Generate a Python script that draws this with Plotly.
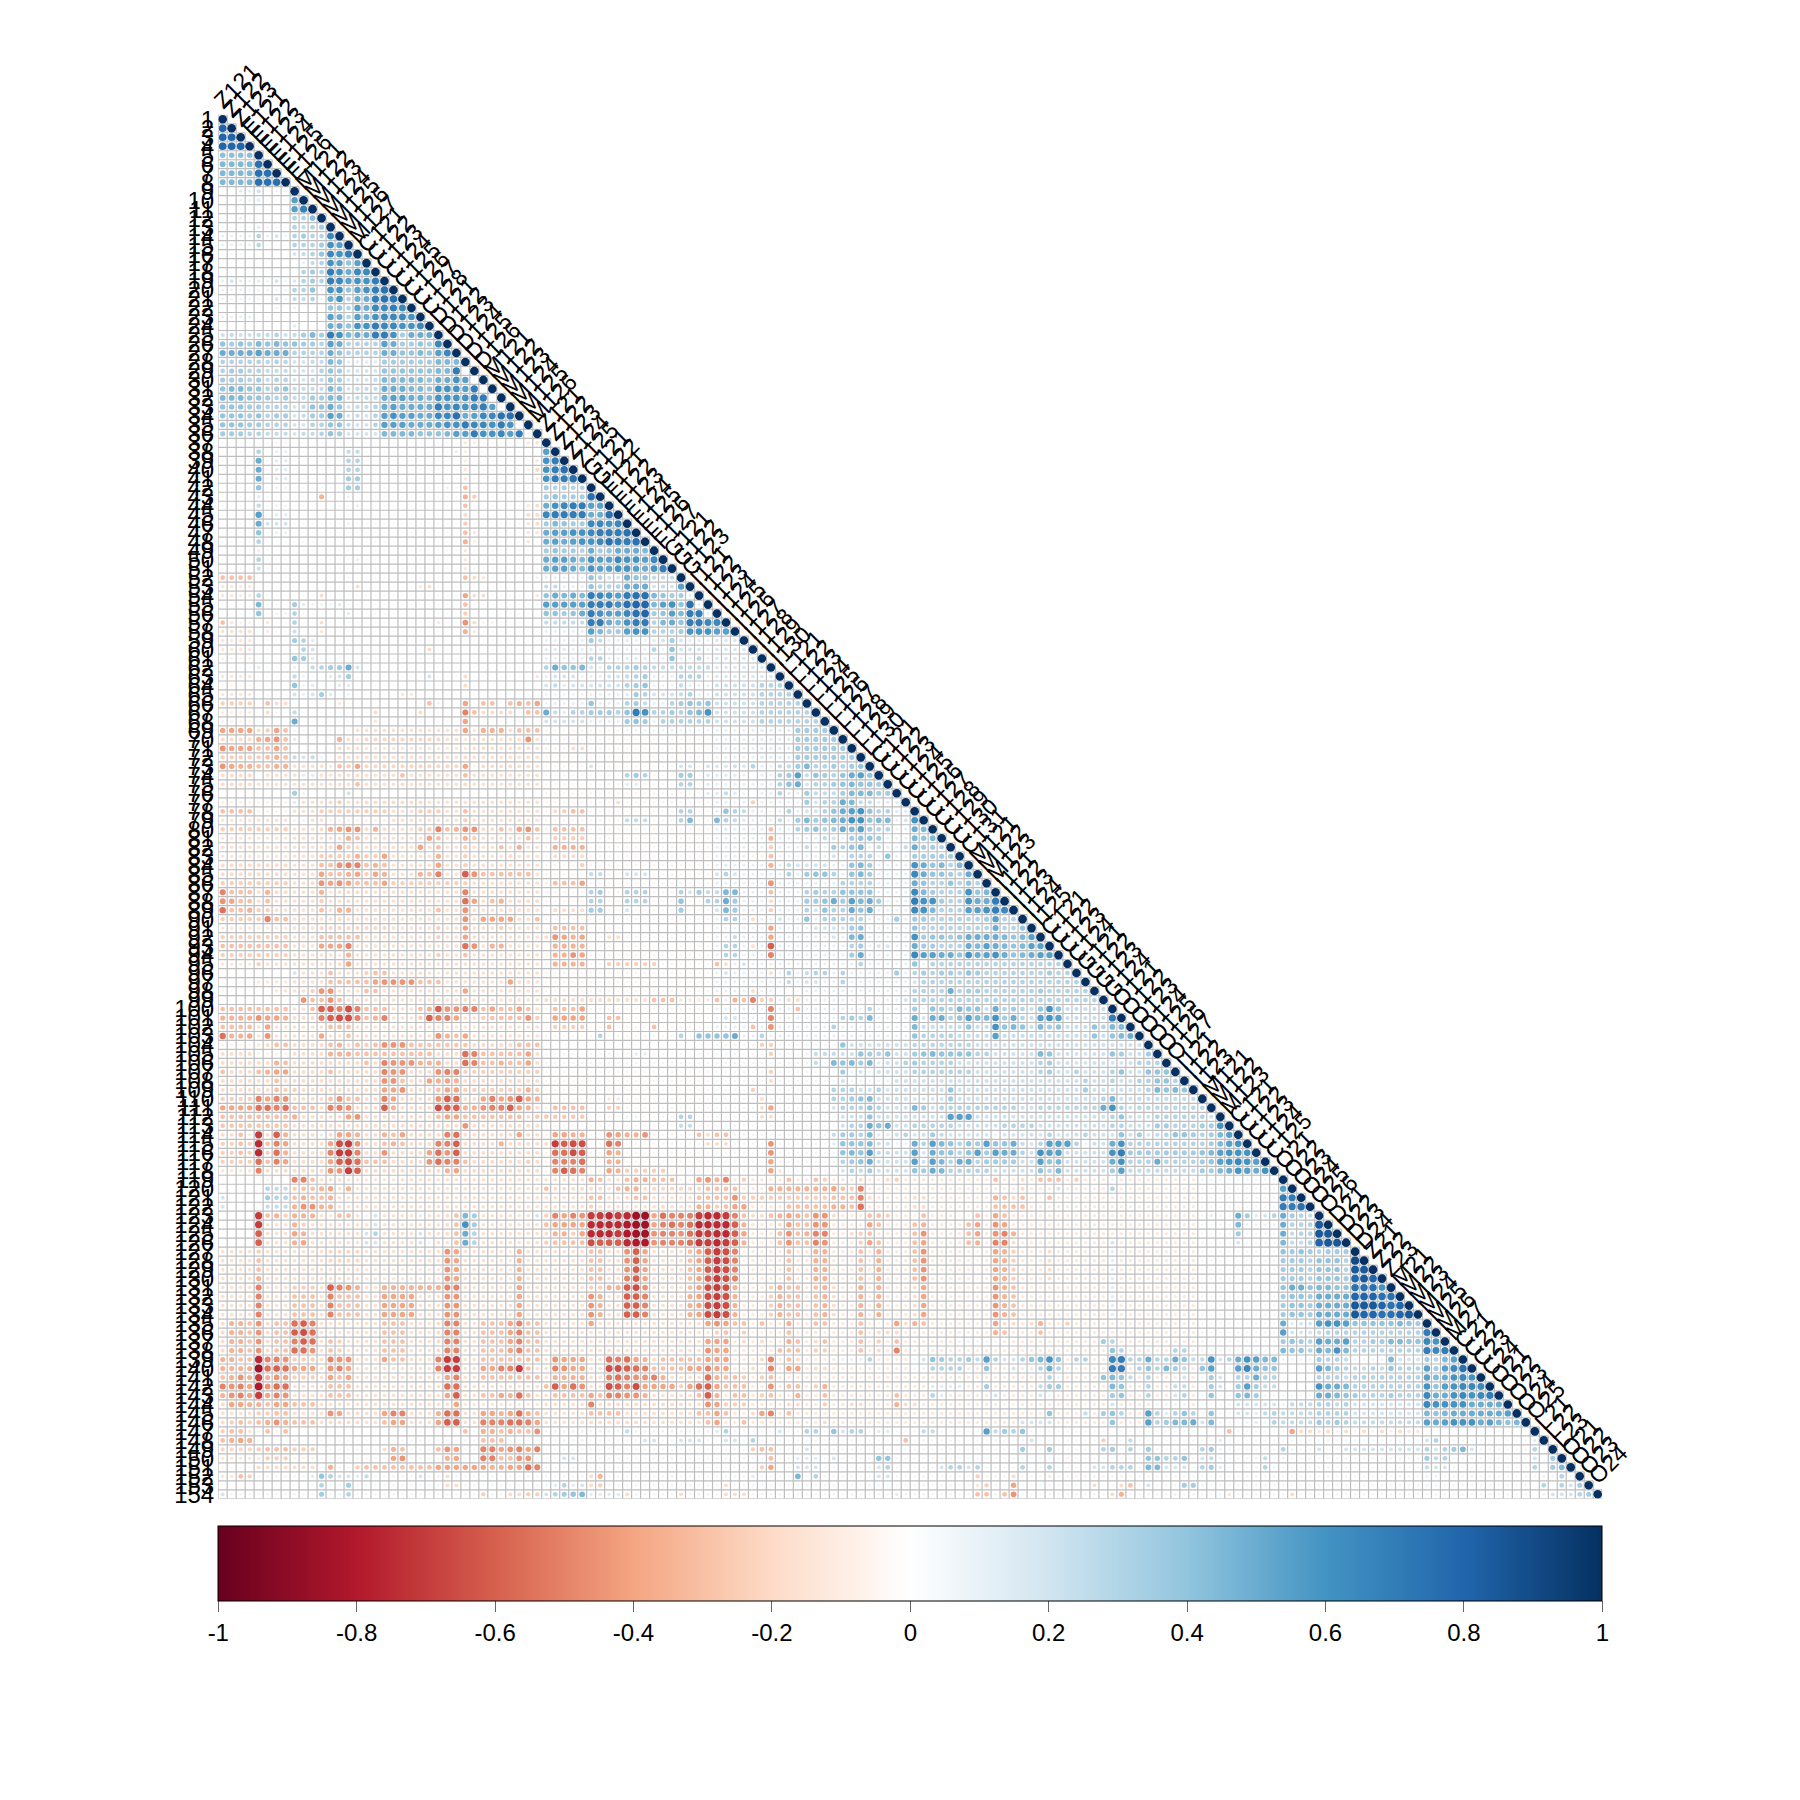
import plotly.graph_objects as go

N = 154
PAGE = 1784
row_labels = [str(i) for i in range(1, N + 1)]
# first letters of the (overlapping) diagonal labels, per stretch of variables
top_letters = [("Z",3),("E",6),("M",7),("C",8),("D",6),("M",6),("Z",5),("G",2),("F",7),("G",3),("I",10),("L",10),
               ("C",11),("M",3),("I",5),("C",4),("G",4),("O",7),("I",3),("M",3),("C",5),("O",6),("D",4),("Z",3),
               ("M",7),("C",4),("O",5),("L",3),("O",4),("K",8),("Z",2),("K",2)]
tick_vals = [-1, -0.8, -0.6, -0.4, -0.2, 0, 0.2, 0.4, 0.6, 0.8, 1]
tick_text = ["-1", "-0.8", "-0.6", "-0.4", "-0.2", "0", "0.2", "0.4", "0.6", "0.8", "1"]
palette = ["#67001F","#B2182B","#D6604D","#F4A582","#FDDBC7","#FFFFFF","#D1E5F0","#92C5DE","#4393C3","#2166AC","#053061"]

# background tone of pale dots: rows, cols, value (hundredths)
tones = [
 ("1-51","1-154",6),("52-68","1-36",6),("52-68","37-154",12),("69-103","1-36",-18),("69-103","37-55",-8),
 ("69-103","56-154",12),("79-99","78-100",30),("104-118","1-36",-20),("104-118","37-55",-8),("104-118","56-69",8),
 ("104-118","70-118",22),("100-103","78-100",24),("119-146","1-54",-18),("119-146","55-109",-14),
 ("119-146","110-118",8),("127-146","119-134",25),("123-126","119-122",25),("147-154","1-154",8),
]

left_1_51 = {
 "2":"1:80", "3":"1-2:80", "4":"1-3:80", "5":"1-4:42", "6-8":"1-4:45 5-7:75",
 "9":"1:5,5,15,12,22,5,10,10", "10":"1:3,3,10,10,15,5,5,5,55", "11":"1:3,3,5,5,3,3,3,3,55,68", "12":"1:5,5,12,5,3,3,3,3,30,30,42",
 "13":"1:7,7,7,7,15,8,8,8,30,25,30,35", "14":"1:12,12,12,12,30,12,20,10,30,35,30,30,65", "15":"1:12,12,12,12,28,5,5,5,30,30,30,35,60,55",
 "16":"1:8,8,8,3,3,3,3,3,20,25,30,40,65,60,70", "17":"1:5,5,5,5,3,3,3,3,3,12,25,30,60,55,40,55", "18":"1:3,3,3,3,3,3,3,3,3,30,35,30,70,60,50,65,65",
 "19":"1:12,20,15,10,15,10,20,10,18,30,35,30,70,65,55,60,60,70", "20":"1:10,12,12,10,10,10,10,10,30,30,40,10,60,60,40,55,60,70,75",
 "21":"1:10,10,10,10,10,5,20,10,25,25,30,10,50,60,30,50,50,70,75,75", "22":"1:3,3,3,3,3,3,10,3,12,3,3,3,40,40,30,55,50,65,65,70,65",
 "23":"1:12,12,12,12,5,5,5,5,3,3,3,3,55,50,30,55,50,60,65,65,65,60", "24":"1:4,4,4,4,4,4,4,4,15,3,3,3,50,50,40,60,60,70,65,65,60,60,65",
 "25":"1:22,25,22,22,25,25,30,22,25,35,45,35,70,60,45,50,50,70,70,60,35,50,50,50",
 "26":"1:40,35,40,35,45,40,45,40,40,35,35,30,55,50,30,30,30,30,55,50,35,35,40,35,65",
 "27":"1:50,50,50,50,55,50,50,50,30,30,30,30,50,40,30,30,30,30,50,50,40,40,45,40,55,65",
 "28":"1:30,30,30,30,30,28,30,28,20,20,25,25,45,40,15,15,15,15,35,35,35,35,35,35,45,45,45",
 "29":"1:30,35,35,30,30,25,25,25,20,20,20,30,40,35,20,20,20,20,40,40,40,40,40,40,45,45,70",
 "30":"1:35,35,35,30,35,25,30,30,20,20,25,25,40,35,20,20,20,25,45,45,45,45,45,40,50,50,60,55",
 "31":"1:40,45,45,40,40,30,35,40,25,25,25,25,45,40,20,25,25,25,50,50,50,45,45,40,60,60,60,55,70",
 "32":"1:45,45,45,40,40,35,30,35,25,25,35,35,45,45,20,25,25,25,50,55,55,50,50,45,60,60,60,60,70,70",
 "33":"1:40,40,40,35,35,30,30,30,20,25,40,40,50,40,20,25,25,30,50,55,50,50,50,50,70,60,65,60,65,70,55",
 "34":"1:40,40,40,35,40,30,35,35,20,25,35,35,55,50,20,25,20,30,55,60,55,55,50,50,65,65,75,50,55,65,65,75,75",
 "35":"1:40,40,40,35,35,30,30,30,20,20,30,30,40,40,25,20,20,30,55,55,55,50,50,50,55,60,60,70,65,65,60,70,60",
 "36":"1:35,35,35,30,30,25,25,25,20,25,25,30,40,35,20,20,20,20,45,45,45,45,40,40,40,45,55,55,70,60,60,65,55,70",
 "37":"7-8:8 28:-15 29:-12 35:-15 36:-18", "38":"5:30 7-8:12 15-16:25 27:12 28:-12 37:55",
 "39":"5:50 7-8:15 15-16:30 28:-12 36:-15 37:60,70", "40":"5:50 7-8:15 15-16:30 28:-15 35:-12 36:-22 37:60,70,75",
 "41":"5:50 7-8:15 15-16:35 28:-15 36:-15 37:60,70,70,75", "42":"5:40 7-8:10 15-16:35 26:10 28:-30 37:35,30,35,30,30",
 "43":"5:15 12:-35 15:10 28:-35 29:-25 37:35,40,35,35,35,75", "44":"5:25 7-8:10 16:12 28:-30 35:-15 36:-20 37:50,60,65,70,70,55,55",
 "45":"5:55 7-8:15 28:-20 35:-20 36:-20 37:65,70,70,70,70,50,50,75", "46":"5:50 6-8:20 15:10 28:-25 35:-15 36:-20 37:35,45,40,35,35,65,65,60,65",
 "47":"5:40 7-8:12 28:-30 29:-15 35:-15 36:-15 37:50,55,55,60,60,65,70,70,70,75",
 "48":"5:30 28:-35 29:-12 35:-15 37:50,55,50,55,60,60,65,75,70,70,75", "49":"5:12 28:-15 37:35,40,35,35,30,50,35,40,50,50,50,45",
 "50":"5:30 16:12 28:-15 37:50,55,55,50,45,60,55,55,65,60,60,55,65", "51":"5:22 28:-15 37:50,55,55,50,45,60,55,55,60,60,55,50,60,70",
}

left_52_103 = {
 "52":"1-4:-30 6:3 9:8 28:-30 29:-20 30:-15 36:-10 42:40,30,20,20,50,40,40,25,25,25",
 "53":"1-4:-15 16:-20 23:-15 24:-20 37:25,25 42:40,30,30,30,50,50,50,20,25,20,55",
 "54":"1-4:-15 5:30 12:-20 28:-40 29:-20 30:-20 36:-15 37:40,50,45,50,45,70,65,60,55,70,75,75,45,40,35,35",
 "55":"1-4:5 5:45 9:35,15,10,10,10,15 28:-30 37-41:55 42:70,70,70,60,75,80,80,45,55,60,40,75",
 "56":"5:40 7-8:10 9:30 15:15 28:-25 37:40,40,35,40,50,70,60,55,55,65,75,80,35,40,55,45,70,70",
 "57":"1:-30,-15,-10,-10 6:-15 9:30 12:-20 25:-15 28:-45,-20 30-31:-10 37-41:25 42:70,70,50,45,60,70,70,30,45,50,40,70,70",
 "58":"1-4:-18 6:-12 9:22 12:-15 28:-35,-15 42:55,45,35,35,55,60,60,30,30,30,35,60,60,60",
 "59":"1-4:-15 9:35,30,15 42:35,25 46:15 49:15,20,35,20 54:15",
 "60":"1-4:-15 10:30,20 24:-20 37-39:15 42:15 49:30,10,40,20,20 54:20",
 "61":"1-4:-10 9:40,35,15 17-25:7 42-43:30 46-48:15 51:40 54:30",
 "62":"5:15 9:12 11:25,30,35,35,50,20 37:30,50,40,40,45,20 44-45:30 46:30,35,30 49-55:25",
 "63":"1-4:-15 9:25,10 13:15,20,35 24:20 28:-20 36:-15 37:12,20,20,20,10 44-45:20 46:25,30,35 52-54:30",
 "64":"1-4:-8 9:40,10,15 14-15:15 28:-20 37:20,25,15,20,20 42-45:20 46:30,35,40 49-51:10 52:25",
 "65":"1-4:-15 9:20,12,20,35,15 15:10 21-22:-15 37-41:10 46:15,35,30 49-50:20 51:20,25,30",
 "66":"1-4:-25 6:-30,-20,-20 14:-15 24:-30,-10 28:-40 30-31:-30 33:-30,-35,-30,-40 37:10 42:40 46:30,35,25 51:30,35,40,35,40",
 "67":"1-4:-12 6:-20 9:25 18:-20 23:-20 28:-50,-30 30-33:-20 35:-30,-30 37:50,25,15,30,30,35,35,35,30,40,70,60,30,30,35,30,40,45,60",
 "68":"1-4:-10 9:50 18:-15 28:-40 37-41:20 46:35,40,35 50-55:30",
 "69":"1-4:-40 5:-20,-25,-40,-30 9-15:8 28:-40,-15 30:-35,-35,-35 34-36:-30 46-55:10",
 "70":"1-4:-20 5:-35,-40,-45,-30 9:15 10-13:-3 14:-35 16:-15 17-25:-22 28:-15 35:-45 37:10",
 "71":"1:-45,-40,-40,-40,-30,-30,-40,-30 9-13:-3 14:-20 17-28:-15 37:-10,-10,-10,-20,-20",
 "72":"1-4:-25 5:-25,-30,-35,-30 9:25,20,25,10 13:-5 28:-20",
 "73":"1:-45,-40,-35,-35,-30,-30,-35,-35 13:-15,-30,-25,-40 17-28:-22 28:-40,-10 30-35:-20 42:20 52-53:20",
 "74":"1-4:-20 5:-5 10:15,15 16:-20 21:-30 28:-30 46:30,35,30 52:35,35",
 "75":"1-4:-20 16:-30 21:-20 28:-20 46-47:15 52-53:30",
 "76":"1-8:-4 9:35,10 11-14:2 15:20 16-36:-3",
 "77":"1-8:-10 9:15 13:-20,-25 17-23:-20 34:-15 45:-20",
 "78":"1-4:-30 5-8:-10 12-19:-25 23-25:-25 28:-30 38:-20,-25,-30,-30 52-53:30",
 "79":"1-4:-15 9-10:10 13-19:-10 28:-25 46-48:25 52:30,45",
 "80":"1-8:-25 12:-20,-35,-40,-45,-45,-20,-35,-20 23:-25,-25,-50,-30,-35,-45,-45,-20,-20,-30,-20,-40,-45,-30 38-41:-30",
 "81":"1-8:-15 15:-35,-30 24:-40,-30 28:-35,-25 35:-30 38-41:-25",
 "82":"1-8:-18 13:-20,-40,-25,-20 23:-40 25:-30 28:-25 32:-30 34:-35 38-41:-35",
 "83":"1-8:-15 12-19:-25 16:-35 19:-40 25:-35 28:-25 33:-20 38-41:-20",
 "84":"1-8:-20 12-19:-30 14:-45,-50,-50 18:-35 25:-40 28:-25 41:-25",
 "85":"1-8:-20 12:-40,-30,-30,-35,-40,-25,-40,-35 23:-35,-30,-50 28:-60,-45 30-35:-30 42-43:25 46-48:20",
 "86":"1-8:-25 11:-20,-45,-40,-45,-40,-30,-30,-30,-40 20-28:-25 37:-10,-30,-30,-30,-40",
 "87":"1:-50,-30,-30,-30 6:-35,-20,-20 12:-35,-15,-20,-20,-20 28:-50 42:30,35 46-48:30 52:30,20,35,30",
 "88":"1:-45,-40,-30,-30 6:-30 12:-25 15:-20 28:-55,-40 31:-30,-35 34-36:-20 42-43:30 46-48:30 52:40",
 "89":"1:-55,-30,-30,-35,-25,-25 12:-30 14:-35,-35 25:-30 28:-45 38-41:-20 42:35,35 46:20 52:35",
 "90":"1-5:-25 6:-50,-30,-30 14:-20 28:-45 30-33:-40 36:-30",
 "91":"1-8:-15 12-19:-22 25:-25 28:-40 32:-25 38-41:-30 46-55:3",
 "92":"1-8:-25 12-16:-30 25:-25 28:-40,-20 37:-20,-45,-40,-35,-40 44-45:-20",
 "93":"1-8:-30 12:-40,-40,-40,-50 28:-55,-45 31-32:-35 38-41:-35",
 "94":"1-8:-25 14:-15,-35 25:-25 28:-30 38:-35,-35,-45,-40",
 "95":"1-4:-15 5:-25 14:-20,-40 38-41:-35 44-49:-25",
 "96":"1-8:-3 9:20 13:-30 17:-25,-30,-30 25:-15",
 "97":"1-4:-5 5-8:-15 13-17:-30 18:-40,-45,-45,-45,-45,-30,-30,-30 33:-40 34-35:-20",
 "98":"1-6:-5 7:-15 11:-25,-45,-45 17:-30,-30 28:-40 43:10",
 "99":"1-9:-5 10:-45,-30,-30,-45,-30 28:-20 37-48:-20 49-51:-30 52-55:-15",
 "100":"1-8:-30 11:-30,-60,-60,-50,-65,-50,-30,-30,-30 23:-30,-35,-60,-45,-45,-50,-50,-30,-40,-30,-30,-40,-30 38:-30,-30,-30,-40",
 "101":"1-4:-35 5:-45,-40,-40,-35,-20,-20,-20,-50,-60,-65,-65,-50,-30,-35,-50 23:-25,-60,-50,-50,-40 30:-25,-30,-30,-30,-30,-45,-25 38-41:-40 44-45:-30",
 "102":"1-4:-30 6:-40 13-15:-30 25-29:-15 38-41:-25 44:-30 49:-30",
 "103":"1:-55,-35,-35,-40 6:-45 12:-40 15:-30 25:-45,-35,-30,-40 43:30 52:30 54:40",
}

left_104_154 = {
 "104":"1-4:-10 5:-15 7-8:-30 13:-30,-35,-20,-30,-25,-30,-45,-45,-45,-30 23-28:-28 34-36:-30 37-55:-4",
 "105":"5-8:-10 12:-20,-35,-35,-35 16-24:-30 28:-55,-50 30:-30,-30,-30,-30,-30,-40 47-48:15",
 "106":"5-8:-20 7:-35,-30 13-15:-20 17:-30 19:-50,-45,-45,-45 23-25:-35 28:-55,-50 30:-30,-30,-35,-30,-30,-40",
 "107":"1:-30,-20,-20,-20,-30,-35,-40,-40 11:-20,-20,-30 19:-50,-45,-45 25:-45,-50,-50 28-36:-25",
 "108":"6:-20,-30,-20 19:-45,-45,-30 24:-40,-35,-40,-35 28-36:-20",
 "109":"7:-30,-25,-25 19:-40,-40,-45 25:-30,-40,-40 28-36:-25 35:-35",
 "110":"1-4:-25 5:-50,-40,-50,-45,-20,-20,-20 13:-30,-45,-30,-30 19:-50,-40 25:-45,-60,-55 30:-40,-50,-40,-45,-60,-40,-35 44-45:-15",
 "111":"1-4:-40 5:-55,-55,-50,-55,-30,-30,-30 13:-50,-50,-45 19:-60,-35 25:-65,-60,-60,-35,-35,-45,-50,-50,-60,-40,-35 38-41:-30 44-45:-25",
 "112":"1-8:-30 9:-35 15:-40,-45 25:-30,-40,-40 28-34:-30 36-41:-27 46-47:10 52-53:30",
 "113":"1-8:-28 17-25:-20 28:-45 30-33:-20 52-53:25",
 "114":"1:-20,-20,-30,-15,-70,-20,-60,-35 12:15,-20,-40,-40,-35 19:-35,-30,-40 26:-50,-55 31:-20 34:-40 38:-40,-40,-35,-35 44:-45,-40,-35,-35,-45 54-55:-30",
 "115":"1:-25,-25,-30,-25,-75,-30,-50,-40 13:-40,-65,-70,-45 19:-30,-35,-30 25:-50,-50,-60 32:-35 37:-20,-70,-60,-65,-65 44:-55,-50",
 "116":"1:-25,-25,-30,-25,-75,-25,-55,-35 12:-20,-50,-70,-70,-50 19:-45 24:-40,-55,-45,-60 38:-55,-55,-65,-60 44:-40,-35",
 "117":"1-4:-25 5:-55,-30,-50,-40 13:-40,-60,-65,-55,-30,-30,-30 24:-45,-55,-50,-50,-30 35:-25 38:-50,-50,-50,-55 44-45:-35",
 "118":"1-4:-15 5:-50,-20,-20,-20 13:-45,-45,-70,-60 26:-35,-40 38:-50,-60,-55,-50 44:-40,-35,-25,-25,-25,-25,-25",
 "119":"1-8:-3 6:10 9:-50,-50,-30 15-20:-15 42:-35,-30 46:-30,-35,-35,-30,-30,-30,-10,-10,-40,-45",
 "120":"1-5:-3 6:30,25,25,-25,-30,-30,-35,-40 15:-35 37:-30 38-41:-20 42-43:-20 45:-30,-35,-35,-20 49-55:-22",
 "121":"1:20 2-5:3 6:35,30,30,-30,-35,-30,-30,-35 42-43:-30 46:-20,-30,-30 54-55:-30",
 "122":"1:20 2-5:3 6:25,25,25,-35,-45,-45,-35,-35 42:-25 46:-15 50:-20 54-55:-35",
 "123":"1-4:-3 5:-70,-30,-35,-25,-35,-35,-35 13:-15,-30,-30 17:10,20 23:15 26:-20,-30,45,35 36:20 37:-25,-50,-40,-50,-45,-70,-70,-75,-70,-75,-85,-85,-40,-55,-50,-50,-50,-70,-75",
 "124":"1-4:-3 5:-70 9:-35,-25 18:20 26:-20,-30,60,35 37:-30,-40,-40,-40,-40,-75,-75,-75,-75,-80,-85,-85,-40,-50,-55,-50,-55,-75,-80",
 "125":"1-4:-3 5:-60 9:-40,-35 17:20,30 23:20 26:-20,-30,50,30 37:-20,-35,-35,-25,-40,-75,-75,-75,-70,-80,-85,-85,-45,-50,-50,-45,-55,-70,-80",
 "126":"1-4:-3 5:-60 9:-35,-40 17-18:20 23:20,10 27:-30,50,30 37:-25,-30,-30,-30,-30,-65,-60,-60,-60,-75,-80,-80,-45,-50,-50,-50,-55,-70,-70",
 "127":"5:-25 13-16:-22 17-25:-18 26:-45,-40 33:-15,-35 42-43:-30 46:-45,-60,-40 53:-30,-40,-45",
 "128":"5:-30 13-16:-22 17-25:-18 26:-45,-40 33:-15,-35 42-43:-30 46:-45,-60,-40 53:-30,-40,-45",
 "129":"5:-30 13-16:-18 17-25:-15 26:-45,-40 33:-15,-35 42-43:-30 46:-45,-60,-40 53:-30,-40,-45",
 "130":"5:-35 13-16:-18 17-25:-15 26:-45,-40 33:-15,-35 42-43:-30 46:-50,-60,-40 53:-30,-40,-50",
 "131":"5:-50 9-11:-25 13:-60,-50,-45,-35 19-25:-35 26:-50,-50 34:-40 42-43:-25 44-45:-35 46:-60,-65,-45 53:-30,-40,-55",
 "132-134":"5:-50 9-11:-30 13:-50,-30,-30,-30 19-22:-40 26:-45,-45 34:-40 42:-45,-35 46:-60,-60,-50 53:-35,-40,-60",
 "135":"1:-20,-35,-35,-30,-45,-20,-30,-30,-55,-60,-50 19-21:-30 25:-20,-50,-50 30:-30,-30,-30,-40,-50,-30,-30 42:-40",
 "136":"1:-20,-35,-35,-30,-45,-20,-30,-30,-60,-65,-55 19-21:-30 25:-20,-50,-50 30:-30,-30,-30,-40,-50,-30,-30",
 "137":"1:-20,-35,-35,-30,-45,-20,-30,-30,-50,-60,-55 13:-30,-25 19-21:-30 25:-20,-50,-50 30:-30,-30,-30,-40,-50,-30,-30",
 "138":"1:-20,-35,-35,-30,-45,-20,-30,-30,-55,-55,-45 13:-30,-25 19-21:-30 25:-20,-50,-50 30:-30,-30,-30,-40,-50,-30,-30",
 "139":"1:-35,-35,-30,-30,-75,-50,-50,-45,-25,-25,-25 13:-50,-45,-45 19:-40,-30,-30 25:-50,-70,-70 30-36:-30 38:-45,-40,-40,-40 44:-55,-50,-55,-40,-35,-20,-30,-30,-30,-30,-30,-30,-30",
 "140":"1-4:-35 5:-85,-55,-60,-55,-40,-40,-40 13:-45,-50,-40 25:-50,-70,-70 30:-40,-40,-50,-50,-70,-30 38:-50,-45,-40,-40 44:-65,-65,-60,-55,-50,-30,-30,-30,-30,-40,-40,-50",
 "141":"1:-30,-35,-45,-35,-70,-35,-45,-40,-25,-25,-25 13:-40,-30,-40 26:-40,-50 30-36:-30 38-41:-35 44:-50,-55,-50,-45,-45,-50,-35",
 "142":"1:-50,-45,-50,-40,-80,-45,-55,-55 13-15:-30 26:-55,-55 37:-30,-60,-40,-55,-45 44:-65,-60,-50,-65,-40,-40,-40,-40,-25,-40,-55,-40",
 "143":"1:-35,-45,-50,-40,-70,-40,-50,-45 13-15:-30 26:-40,-60 30:-30,-30,-40,-35,-55,-30 38-41:-30 42:-40,-30,-50,-50,-45,-45,-35 54:-30,-45",
 "144":"1:-20,-40,-40,-35,-35,-30,-40,-40,-30,-30,-30 27:-40 28-36:-15 42:-50 44-52:-20",
 "145":"5:-25,-25,-30,-30 13:-45,-40,-20,-20 19:-40,-50,-50 25:-35,-55,-55 30:-40,-40,-35,-40,-55,-35,-30 42-45:-30 54:-30,-35",
 "146":"1:-20,-25,-30,-25,-30,-35,-45,-35,-30,-30,-30 13-16:-20 19:-30,-40,-40 25:-40,-60,-60 30:-50,-50,-50,-55,-55,-50,-40 42-48:-20",
 "147":"1:-25,-30,-30,-15 6:-30,-10,-30 9-27:-5 28:-30 30:-35,-35,-30,-35,-30,-30,-45 37-55:10 46:25",
 "148":"1:-30,-35,-40,-35 6-8:-5 9:-10 30-32:-30 38-41:10 48:20,20 52-54:20",
 "149":"1-4:-22 5:-25,-30,-30,-30,-25,-25,-25 19:-20,-35,-30 25:-30,-45,-40 30:-50,-50,-40,-45,-50,-40,-50",
 "150":"1-5:-15 6-8:-25 9-11:-10 20:-40,-45 26:-35,-40 30:-50,-50,-30,-30,-45,-45 39-40:20",
 "151":"1-4:-8 5-11:-20 13:-35 16:-25,-30,-30,-30,-30,-30,-30 23:-30,-30,-40,-40,-40,-40 29:-40,-40,-35,-35,-40,-40,-55,-50 40:10",
 "152":"1:-15,-15,-30,-25 11:15,40,30,20,20,15,25 23:20 26:-20 42:-20,-35",
 "153":"1-10:-5 12:30 15:35 26:-20,-20 38:15,30,15,20 42:-20,-25",
 "154":"1:20 12:35 15:30 30:-25 33:-20,-20,-25,-25 37:20,30,35,40,45 42-45:15 46:-20 52:-20 54-55:10",
}

mid_52_103 = {
 "57":"55-56:65", "58":"56-57:55", "59-63":"56-62:18", "64-68":"56-60:22 61-67:30", "69-72":"56-60:12 61-64:15 65-71:35",
 "73":"55:20,18,18,22,18,30 63:25,25,35,45,30,30,35,30,35,40,45,45",
 "74":"55:18,15,15,15,12,5 63:30,35,55,25,40,35,30,40,50,55,40",
 "75":"55:15 63:30,40,50,20,30,30,35,40,45,40,40,35",
 "76":"55:15,15,25,15,10,5 63:30,15,12,35,25,25,25,35,45,45,45,35,35",
 "77":"58:10 60:-25 65:10,35,20,30,30,50,45,25,25,15,15,15",
 "78":"57:40,30,25 62:-10 64:30 66:20,20,30,40,50,55,60,40,30,30,15,15",
 "79":"56:45,30,25,15 63:25 65:35,45,35,40,45,50,60,60,40,45,45 77:20,60",
 "80":"57:15 62:-30 65:30,35,40,30,35,50,45,55,35,30,30 78:50,45",
 "81":"62:-35 68:25,20 71:35,40,40,35 78:45,40,45",
 "82":"60:-10 62:-25 66:25 69:35,30,40,45 74:25 77:25,50,35,35,30",
 "83":"60:-10,-10,-30,10 65:10 69:20 71-73:30 75:40 78-82:35",
 "84":"57:15 62:-35 64:25,20,20,20,20 71:40,45,35 78:60,50,40,45,30,45",
 "85":"56:20,30,20 64:30 66:35,40,40,30 71:40,45,35 78:65,50,40,40,35,30,50",
 "86":"62:-45 70-73:30 78:50,40,30 82:40 84:40,30",
 "87":"55:25,25,45,45 62:-30 66:30,35,30,30,40,40,40,40 78:65,45,35,30,30,30,60,40,45",
 "88":"55:30,30,50,35 62:-20 66:35,35,40,50,35,55,45,50,35 78:70,60,60,35,30,30,60,50,50,70",
 "89":"56:20,45,35 62:-25 66:30,20,40,30,30,50,40,50 78:65,60,45,30,30,30,55,55,60,70,65",
 "90":"57:30,30 60:-20 63:20 66:40 68:30,30,30,30,30 76:35 78:35,35 82-83:30 84:30,30,35,55,30,30",
 "91":"62:-40 67-70:20 71:35,40 78:40,30,30 84:30,30 87:50,30,30,40",
 "92":"58:25 62:-40 69:20 71:45,50 78:60,35,40,40,35,40,50,50,50,50,45,40,45,55",
 "93":"57:30,30 60:-20 62:-60 71:30,35 74:20,20 78:50,35,35 84:50,45,55,50,45,40,45,55,55",
 "94":"57:30,30 62:-50 71:35,50 76:10 78:65,55,55,50,50,40,60,50,55,60,50,40,45,50,55,55",
 "95":"56:-30,-20 59:20 62:-15 72:30 78:40,10,30",
 "96":"57:20 62:-20 64:30 66:25,30,30 70:30 76:35 78:30,35,30,35,35 84:40,35 91:30,30,35,30",
 "97":"64:25 66:20,20 70:30 78:20",
 "98":"60:-20 63-65:-5 82:50,30,35,35 87:30,30,30,30,30,35 94:30",
 "99":"56:-30 58:-35,-30,-50,-25,-25 64:-20,-20 71-74:-10 77:20 90:30",
 "100":"62:-50 65:-30 72:10,30 78:35,10,40,35,30,45,40,40 87:50,30,35,30 92:40,60,40",
 "101":"57:20,20 62:-50,-10 70:30,35,30,45 78:50,20,50,50,30,40,55,45,45,60,35,50,30 92:55,60,55 100:70",
 "102":"60:-30 62:-45 69:30 78:45 84:40 87:60,40,45,40 92:45,35,40 98:40,30,45,45",
 "103":"55:40,40,40,50 61:30 78:40,30,30,30,30 87:55 98:40 100:40,45,50",
}

mid_104_118 = {
 "104":"57-58:-10 61-62:-25 70:40 73-74:20 78-84:28",
 "105":"62:-25 67-69:25 72:40,35,30,40 78:35,40,45,40,40,40,40,30,30 92:45,40 96:20,20 100:40,35 104:35",
 "106":"67:25 69:45,40,45,35,45,15 77:30,35,30,30,30,30 92:30,35 96:20,20 100:20,20 103:30,30,30",
 "107":"62:-25 70:35,10,20,10 78-84:30 92:30,35 96:30 100:30,40 104:40,40,40",
 "108":"62:-20 71-75:10 97:30 100:30 103:30,30,40,40,30",
 "109":"60:-25 69-71:30 74:30,20 82:40 97:35 104:30,45,40,45,40",
 "110":"61:-20,-10 69:30,30,35,40,45 78-81:20 82:35 99:30,45 103-109:25",
 "111":"61:-20,-40 69:20,30,30,30,40,30 78:45,35 81-89:30 92-98:28 99:50,60,30 103-110:28",
 "112":"61-62:-20 73:40 82-84:55 100:30,40 105-110:30",
 "113":"71:30,30,50,40,50 78-82:30 88-91:30 100:30,30 105:35,35,30,30,30,35,35,60",
 "114":"55:-20,-30,-30 63:-10 69:25,35,35,30,45,15,15 77:30,20 80:35,25,20,20,20,20,20,10,20,20,20 92:20,30,20,20 97:30 100:20,40 103:35,20,25,30,40,40,35,30,35,45,55",
 "115":"55-57:-20 62:-45 69:15,40,40,40,45 76:10,10,50,30,55,45,40,30,40,35,55,40,40,50,25,20,30,55,55,55,30 97:10 100:50,60,30,30,30,30,30,30,30,30,30,35,45,55,60",
 "116":"62:-45 70:40,45,40,55,25,25 78:55,20,50,40,40,30,40,55,35,55,50,50,30 92:60,55,55 100:60,70,35,35,35,35,35,35,35,35,40,45,55,60,60,60",
 "117":"62:-40 70:30,35,40,50 78:55 80:55,45,30,50,50,30,35,35,35,35 92:55,40,45 100:50,60,30,30,30,50,30,30,30,30,35,40,55,60,65,60,55",
 "118":"62:-40,-15 70:20,30,25,35 77:20,40,35,50,45,30,30,30,30,30 92:40,30,45 100:35,55,25,25,25,25,25,25,25,25,35,35,45,50,60,55,50,60",
}

mid_119_154 = {
 "119":"55:-45,-35,-50 59:-25 61:-15 64:-30 67:-30,-25 70:-15 72:-20 75:-20,-25 78:-15,-15 87:-30 90:-20 92-94:-30 96:-25 100:10",
 "120":"55-58:-30 62-68:-35 69:-40,-30,-25,-50 90:-20 94:20 100:30",
 "121":"56:-30,-30,-45,-40 59-68:-25 69:-30,-30,-30,-50,-20,-15 78:-20,-20 87:-35,-30,-20,-30 92:-10,-30",
 "122":"56:-25,-30,-40,-40 64-68:-30 69:-35,-35,-30,-55 78-79:-20 87-90:-30",
 "123":"55:-75,-75,-70,-50,-30,-20,-20,-30,-35,-40,-35,-30,-45,-45,-20 73:-30,-30,-25 78:-10,-30 83:-10,-10,-30 87:-40,-30",
 "124":"55:-75,-75,-75,-60,-35 63:-20,-40,-30,-30,-45,-45 73:-40,-30 78:-30,-35 84:-30,-40 87:-45,-40",
 "125":"55:-70,-75,-75,-60,-40 63:-30,-45,-30,-35,-50,-50 71:-20,-25,-30 78:-30,-45 84:-30,-40 87:-45,-50,-35",
 "126":"55:-70,-75,-70,-60,-35 63:-30,-45,-30,-30,-50,-45 72:-25,-40,-30 78:-30,-40 84:-30,-35 87:-50,-50,-20 100:20",
 "127-130":"55:-60,-70,-65,-50,-10 64:-30,-15,-15,-35,-35 72:-30 74:-35 78:-30,-45 85:-10 87:-40,-35,-25 93:-20 100:15",
 "131-134":"55:-65,-70,-65,-35 62:-25,-35,-30,-30 67:-30,-35,-20 72:-35 74:-35,-15 78:-20,-40 87:-45,-35,-30 100:15",
 "135":"55:-40,-45,-40,-30,-30,-10,-30 64:-35 67:-30,-30 72:-30 74:-10 76:-40,-20,-35,-30 87:-40,-20,-20 91:-20,-35 95:-25",
 "136":"55:-15,-25,-30 59:-25,-10,-10 64:-30 67:-15 72:-30 74:-20,-20,-20 87:-35,-30 92:-30",
 "137":"55-57:-40 59:-20 61:-20 64:-35,-30 67:-20,-30 72:-30 74:-25 76:-30 83-87:10 99:35,30",
 "138":"55:-45,-40,-40 63:-30,-30,-30 67:-25,-25 72:-30 74:-20 76:-50 79:-10 100:40,30 107:30,30",
 "139":"55-57:-40 61:-20,-50 64:-30,-20 70:12,12,12,30 78:10,20,40,35,30,30,35,25,55,30,20,20,30,40,45,60,40 96:30,30 100:65,70,30,30,50,30,30,50,40,25",
 "140":"56:-40,-40 60:-20 62:-50 64:-40,-40 67:-20,-20 78:10,10,30,30,30,30 86:40 89:20 92:30,50,30 100:70,70 103:30,40,30,45,35,25",
 "141":"55:-55,-35,-30,-30,-25 61:-25,-30 72:-10 93:30,10 99:40,45,40,25 104:30 108:20",
 "142":"55:-60,-40,-30,-30,-30 62:-45 64:-30,-30 67:-25,-35 73:-15,-15 80:15,15,15,15 86:35 92:25,35,35 100:45,40 104:30 107:25,25",
 "143":"55:-60,-35 58:-30,-30 61:-25,-30 65:-35 68:-30 76:-30 80:30,15 87:20 92:20,10 100:35,40 104:30 107:20,30",
 "144":"55:-45,-40,-25,-25,-25 64:-20,-20 68:-25 70:-15,-20,-20 75:-15,-35,-20,-20 88:-10,-10 97:-10 100:20 105-108:10",
 "145":"55:-30,-40,-30 60:-20,-40,-50 64:-30 93:40 97:25 99:35,40,30 104:55,30,15,30,40,30",
 "146":"55:-30,-40 59:-30 61:-15 68:-20 90-93:20 100:40 104:55,30,35,45,45,50",
 "147":"55:10,15,30,10 63:20 66:30,30 69:40,20,30,30 74:15,15 79:25,25 86:55,25,35,30,40 100:5",
 "148":"57:20,20 60:30 77:-30 91:20 99:-25 102:25",
 "149":"60:-25,-30,-30 66:20 90:35 93:35 99:30,35 102:30 104:35",
 "150":"62:-30 65:15,15,15 69:20 74:40,40 95:-10 104:40,40,30,30,40",
 "151":"61:-25,-40 65:20,20,20 74:20,30 81:20,30,30,20,30 90:30 93:30 98:20,20,30,30,30 104:45,45,20,20,20",
 "152":"60:15 65:45 67:30 74:20,20 85:-25 89:-20 93:-15 97-101:-10",
 "153":"57:-20 85:-15,-25 89:-40 98:-20 101:-20,-30 104:20 108:35,35",
 "154":"57-59:-20 76:15 85:-30,-30 88:-30,-45 100:-20,-35 107:10",
}

right_119_154 = {
 "120":"119:55", "121":"119:70,70", "122":"119:70,70,75",
 "123":"111:15 114:50,35,15,20,30,50,35,30,25",
 "124":"114:45 115-118:10 119:50,30,30,30,85", "125":"114:35 119:50,25,30,30,85,85", "126":"114:20 119:45,25,25,30,80,85,85",
 "127":"119:40,35,40,35,30,35,35,35", "128":"119:35,35,35,30,40,40,40,30,90", "129":"119:35,35,35,30,40,40,40,30,85,85",
 "130":"119:35,35,35,30,40,40,40,35,80,85,80", "131":"119:40,50,50,40,45,45,40,40,75,75,75,60",
 "132":"119:35,40,40,35,50,50,50,50,80,80,80,75,75", "133":"119:35,40,40,35,50,50,50,50,85,85,85,80,75,80",
 "134":"119:35,40,40,35,50,50,50,50,85,80,80,75,75,80,85",
 "135":"119:50,15,20,20,55,60,60,55,40,40,40,40,40,45,40,35", "136":"119:55,20,20,20,25,30,30,30,30,30,30,30,30,30,30,30,70",
 "137":"119:35,40,35,30,55,50,50,55,30,30,35,35,45,45,40,40,65,60", "138":"119:45,40,40,30,50,45,60,45,30,30,30,30,30,30,30,30,70,65,70",
 "139":"110:25,60,20,30,50,60,55,45,45,10,10,10,10,35,30,30,25,10,10,10,10,45,20,20,20,35,30,45,55",
 "140":"110:40,55,3,10,55,65,50,40,40,5,5,5,5,55,45,35,30,25,25,30,25,40,30,30,30,55,35,55,65,75",
 "141":"111:35,20,3,30,30,50,30,30,5,5,5,5,30,30,30,25,30,30,30,30,30,30,30,30,55,45,50,60,65,60",
 "142":"111:35,20,3,35,55,35,25,25,5,5,5,5,60,50,50,45,30,30,30,30,30,30,30,30,60,40,55,60,65,65,65",
 "143":"111:40 114:40,45,35 119-122:8 123:50,50,45,40,35,30,30,30,35,30,30,30,65,50,50,60,65,60,65,70",
 "144":"114-118:20 119:10 123:30,30,25,30 127-134:20 135:65,60,60,60,60,50,50,50,50",
 "145":"111:40 114:20,20,15,25,30 123-126:30 127-134:20 135:45,40,45,50,50,50,50,50,50,55",
 "146":"110:20,45 115:10,15,10,30 123:35,30,35,30 127-134:25 135:55,50,55,60,60,60,50,55,45,40,45",
 "147":"110-112:-3 113:-30 120:-40,-20,-20,-15,-20,-10,-20,-10,-20,-10,-20,-10,-20,-15,-15 135-146:5",
 "148":"112:15 135:20,30 147:15",
 "149":"110:30,35,10 119:30,10 123:20 126-134:20 135:30,20,30,35,45,20 147:30",
 "150":"110:20,25,10 116:10,25 119:10 135:35,25,30 147:20,2,35",
 "151":"110:30,35,15 116:10,30 123:-10,-10 135:25,20,20 147:30,5,35,45",
 "152":"135:10,10 148:10 150:30",
 "153":"135:10 147:3,30,5,30,20,35",
 "154":"113:-15 120:-20 135:8 147:3,10,20,20,20,30,35",
}


def span(text):
    a, _, b = text.partition("-")
    return int(a), int(b or a)


def paint(matrix, groups):
    for group in groups:
        for rows, spec in group.items():
            r1, r2 = span(rows)
            for token in spec.split():
                head, vals = token.split(":")
                c1, c2 = span(head)
                vals = [int(v) for v in vals.split(",")]
                if len(vals) == 1:
                    cols, vals = range(c1, c2 + 1), vals * (c2 - c1 + 1)
                else:
                    cols = range(c1, c1 + len(vals))
                for r in range(r1, r2 + 1):
                    for c, v in zip(cols, vals):
                        if c <= r:
                            matrix[r - 1][c - 1] = v


values = [[0] * N for _ in range(N)]
for rows, cols, tone in tones:
    r1, r2 = span(rows)
    c1, c2 = span(cols)
    for r in range(r1, r2 + 1):
        for c in range(c1, c2 + 1):
            if c <= r:
                values[r - 1][c - 1] = tone
paint(values, [left_1_51, left_52_103, left_104_154, mid_52_103, mid_104_118, mid_119_154, right_119_154])

xs, ys, rs = [], [], []
for r in range(1, N + 1):
    for c in range(1, r + 1):
        v = 1.0 if c == r else values[r - 1][c - 1] / 100
        xs.append(c)
        ys.append(r)
        rs.append(v)

gx, gy = [], []
for k in range(0, N + 1):
    gx += [0.5, min(k + 1, N) + 0.5, None]
    gy += [k + 0.5, k + 0.5, None]
for c in range(1, N + 2):
    gx += [c - 0.5, c - 0.5, None]
    gy += [max(c - 2, 0) + 0.5, N + 0.5, None]

fig = go.Figure()
fig.add_trace(go.Scatter(x=gx, y=gy, mode="lines", line=dict(color="#BEBEBE", width=1.2), hoverinfo="skip", showlegend=False))
fig.add_trace(go.Scatter(
    x=xs, y=ys, mode="markers", showlegend=False,
    marker=dict(
        size=[8.6 * abs(v) ** 0.5 for v in rs], opacity=1, color=rs, cmin=-1, cmax=1,
        colorscale=[[i / 10, p] for i, p in enumerate(palette)], line=dict(width=0),
        colorbar=dict(
            orientation="h", thicknessmode="pixels", thickness=74.5, lenmode="pixels", len=1383.5,
            x=(218.3 - 8) / PAGE, xanchor="left", y=1 - (1526 - 8) / PAGE, yanchor="top", xpad=0, ypad=0,
            outlinecolor="black", outlinewidth=1, tickmode="array", tickvals=tick_vals, ticktext=tick_text,
            ticks="outside", ticklen=11, tickcolor="#666666", tickwidth=1,
            tickfont=dict(size=24, color="black", family="Liberation Sans"),
        ),
    ),
))

top_labels = []
index = 0
for letter, count in top_letters:
    for k in range(count):
        index += 1
        top_labels.append(f"{letter}1{21 + k}" if index <= 118 else f"{letter}{21 + k}")
top_labels = (top_labels + ["K13"] * N)[:N]

annotations = [
    dict(x=i + 1, y=i + 1, xref="x", yref="y", text=t, showarrow=False, textangle=-45, xanchor="left", yanchor="bottom",
         xshift=-17, yshift=3, font=dict(size=23, color="black", family="Liberation Sans"))
    for i, t in enumerate(top_labels)
]

fig.update_layout(
    width=PAGE, height=PAGE, margin=dict(l=0, r=0, t=0, b=0, autoexpand=False), paper_bgcolor="white", plot_bgcolor="white",
    font=dict(family="Liberation Sans", color="black"), annotations=annotations,
    xaxis=dict(domain=[(218.2 - 8) / PAGE, (1602.2 - 8) / PAGE], range=[0.5, N + 0.5], visible=False),
    yaxis=dict(domain=[1 - (1498.8 - 8) / PAGE, 1 - (114.8 - 8) / PAGE], range=[N + 0.5, 0.5], showgrid=False, zeroline=False,
               showline=False, tickmode="array", tickvals=list(range(1, N + 1)), ticktext=row_labels, ticks="",
               ticklabelstandoff=3, tickfont=dict(size=24, color="black", family="Liberation Sans")),
)
fig.write_html("out.html")
